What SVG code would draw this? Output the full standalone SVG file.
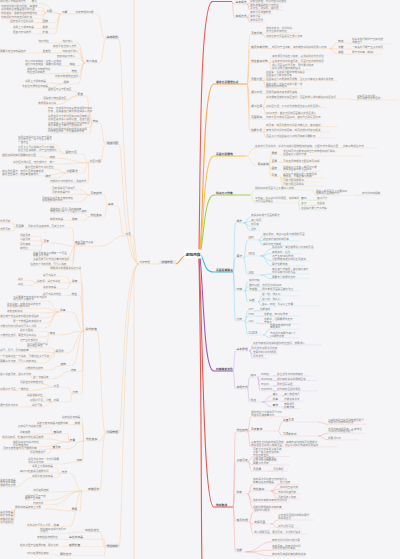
<svg xmlns="http://www.w3.org/2000/svg" width="400" height="559" viewBox="0 0 400 559">
<style>
text{font-family:"Noto Sans CJK SC","Noto Sans",sans-serif}
.t{font-size:2.6px;fill:#858585}
.l{font-size:2.8px;fill:#6a6a6a}
.m{font-size:2.8px;fill:#444;font-weight:600}
.bx{fill:#e4e4ea}
.c{fill:none;stroke-width:.5}
.u{fill:none;stroke-width:.45}
.mb{fill:none;stroke-width:1.1}
.cl{stroke:#f8cfa4}.ul{stroke:#fbdcbc}
.c1{stroke:#f4a6a6}.u1{stroke:#f9cccc}
.c2{stroke:#fbc995}.u2{stroke:#fddcb8}
.c3{stroke:#fcd38a}.u3{stroke:#fee3b5}
.c4{stroke:#c9e29a}.u4{stroke:#dfeec4}
.c5{stroke:#8fd3ee}.u5{stroke:#c2e8f6}
.c6{stroke:#cfa8e0}.u6{stroke:#e5d0ee}
.c7{stroke:#f5a8a8}.u7{stroke:#f9cdcd}
</style>
<rect width="400" height="559" fill="#f5f5f7"/>
<g id="connectors">
<path class="mb" stroke="#ee5a52" d="M199,251C200.5,150 200,8 212,1.5L232,1.5"/>
<path class="mb" stroke="#f7a34b" d="M200,252C204,200 203,84 214,84L247,84"/>
<path class="mb" stroke="#f9c24d" d="M200,253C204,220 204,156 214,156L246,156"/>
<path class="mb" stroke="#a6cf4f" d="M200,254C204,240 204,195 214,195L250,195"/>
<path class="mb" stroke="#3ab7e5" d="M201,255C205,262 204,272 214,272L233,272"/>
<path class="mb" stroke="#9b59b6" d="M200,256C204,300 204,371 214,371L233,371"/>
<path class="mb" stroke="#e8544e" d="M199,257C203,330 203,507 214,507L233,507"/>
<path class="mb" stroke="#e8544e" d="M199,258C202,420 201,540 202,562"/>
<path class="mb" stroke="#f6a85a" d="M186,255.5C181,255.5 180,264 175.5,264"/>
<path class="c cl" d="M139,264C135,264 134,258 134,245L134,-2M139,264C135,264 134,270 134,283L134,562M139,264C122,264 123,39.4 119,39.4M139,264C122,264 123,144.4 119,144.4M139,264C135,264 136,235.9 132.5,235.9M139,264C122,264 123,433.4 119,433.4M139,264C122,264 123,547.4 119,547.4M159.5,264L151,264
M105.5,39.4C101,39.4 101,13.9 97,13.9M105.5,39.4C103,39.4 103,62.9 100,62.9M75,13.9L68,13.9M61,13.9C50,13.9 50,3.1 39,3.1M61,13.9C58,13.9 58,12.9 55,12.9M46,12.9C44,12.9 44,7.4 42,7.4M46,12.9C44,12.9 44,10.9 42,10.9M46,12.9C44,12.9 44,14.9 42,14.9M46,12.9C44,12.9 44,18.7 42,18.7M61,13.9C58,13.9 58,22.7 55,22.7M42,22.7L35,22.7M61,13.9C58,13.9 58,28.7 55,28.7M42,28.7L38,28.7M61,13.9C58,13.9 58,33.7 55,33.7M42,33.7L38,33.7
M85,62.9C81.5,62.9 81.5,42.9 78,42.9M62,42.9L55,42.9M85,62.9C81.5,62.9 81.5,47.9 78,47.9M85,62.9C81.5,62.9 81.5,52.9 78,52.9M62,52.9L53,52.9M42,52.9L33,52.9M85,62.9C81.5,62.9 81.5,57.9 78,57.9M85,62.9C81.5,62.9 81.5,65.9 78,65.9M69,65.9C65.5,65.9 65.5,65.8 62,65.8M85,62.9C81.5,62.9 81.5,72.9 78,72.9M71,72.9C60,72.9 60,73.7 50,73.7M85,62.9C81.5,62.9 81.5,77.9 78,77.9M85,62.9C81.5,62.9 81.5,83.9 78,83.9M63,83.9C56,83.9 56,82.9 50,82.9M63,83.9C56,83.9 56,87.9 50,87.9
M105.5,144.4C102,144.4 103,122.9 100,122.9M92,122.9C89,122.9 89,95.9 86,95.9M77,95.9C76,95.9 76,90.9 75,90.9M77,95.9C72,95.9 72,99.9 67,99.9M77,95.9C67,95.9 67,104.4 58,104.4M92,122.9C91,122.9 91,112.9 90,112.9M92,122.9C91,122.9 91,120.7 90,120.7M92,122.9C91,122.9 91,127.1 90,127.1M92,122.9C91,122.9 91,133.2 90,133.2M105.5,144.4C102,144.4 103,162.9 100,162.9M89,162.9C85.5,162.9 85.5,153.9 82,153.9M65,153.9C59,153.9 59,143.9 53,143.9M65,153.9C62.5,153.9 62.5,151.8 60,151.8M89,162.9C73,162.9 73,158.4 58,158.4M49,158.4C44.5,158.4 44.5,156.5 40,156.5M89,162.9C73,162.9 73,163.9 58,163.9M49,163.9L48,163.9M89,162.9C86,162.9 86,172.9 83,172.9M66,172.9C60.5,172.9 60.5,168.9 55,168.9M66,172.9C54.5,172.9 54.5,175.8 43,175.8M66,172.9C62,172.9 62,177.9 58,177.9M89,162.9C88.5,162.9 88.5,182.9 88,182.9
M124.5,235.9C120.5,235.9 121,205.9 117,205.9M107.5,205.9C105.5,205.9 106,194.9 104,194.9M90,194.9C85,194.9 85,189.9 80,189.9M90,194.9C84,194.9 84,194.2 78,194.2M90,194.9C85,194.9 85,202.1 80,202.1M107.5,205.9C105.5,205.9 106,216.9 104,216.9M90,216.9C86,216.9 86,213.2 82,213.2M90,216.9C87,216.9 87,220.4 84,220.4M71,220.4L68,220.4M124.5,235.9C112,235.9 112,246.2 100,246.2M75,246.2C73.5,246.2 73.5,227.9 72,227.9M28,227.9L25,227.9M15,227.9C14,227.9 14,222.9 13,222.9M15,227.9C14,227.9 14,230.9 13,230.9M75,246.2C63.5,246.2 63.5,242.9 52,242.9M43,242.9C41.5,242.9 41.5,236.4 40,236.4M43,242.9C41.5,242.9 41.5,240.9 40,240.9M43,242.9C41.5,242.9 41.5,245.4 40,245.4M43,242.9C41.5,242.9 41.5,249.9 40,249.9M75,246.2C71.5,246.2 71.5,257.2 68,257.2M75,246.2C74,246.2 74,260.9 73,260.9M75,246.2C73.5,246.2 73.5,265.9 72,265.9
M105.5,433.4C101,433.4 101,330.9 97,330.9M84,330.9C82,330.9 82,269.9 80,269.9M84,330.9C83,330.9 83,282.9 82,282.9M71,282.9C68.5,282.9 68.5,276.4 66,276.4M71,282.9L65,282.9M37,282.9C33.5,282.9 33.5,280.4 30,280.4M37,282.9C33.5,282.9 33.5,285.4 30,285.4M71,282.9C69,282.9 69,288.9 67,288.9M84,330.9C82,330.9 82,295.4 80,295.4M71,295.4L67,295.4M84,330.9C78,330.9 78,311.9 72,311.9M59,311.9C53.5,311.9 53.5,301.2 48,301.2M59,311.9C52,311.9 52,308.2 45,308.2M59,311.9C52,311.9 52,312.9 45,312.9M59,311.9C53,311.9 53,317.9 47,317.9M59,311.9C53,311.9 53,322.9 47,322.9M59,311.9C52,311.9 52,327.9 45,327.9M84,330.9C72,330.9 72,334.9 60,334.9M49,334.9C48,334.9 48,331.4 47,331.4M49,334.9C47,334.9 47,337.1 45,337.1M49,334.9C48,334.9 48,341.7 47,341.7M84,330.9C76,330.9 76,352.9 68,352.9M55,352.9C54,352.9 54,348.2 53,348.2M55,352.9C49,352.9 49,351.9 43,351.9M55,352.9C54,352.9 54,357.9 53,357.9M55,352.9C50,352.9 50,362.9 45,362.9M84,330.9C78,330.9 78,365.7 72,365.7M60,365.7C55,365.7 55,369.9 50,369.9M84,330.9C83,330.9 83,371.5 82,371.5M70,371.5C61.5,371.5 61.5,378.7 53,378.7M33,378.7C31.5,378.7 31.5,375.4 30,375.4M84,330.9C83,330.9 83,393.9 82,393.9M72,393.9C70,393.9 70,387.4 68,387.4M53,387.4C48,387.4 48,383.9 43,383.9M53,387.4C42.5,387.4 42.5,390.4 32,390.4M72,393.9C71,393.9 71,401.9 70,401.9M53,401.9C48,401.9 48,396.5 43,396.5M53,401.9L50,401.9M53,401.9C48,401.9 48,406.9 43,406.9M32,406.9L27,406.9
M105.5,433.4C102.5,433.4 102.5,440.9 100,440.9M84,440.9C83,440.9 83,418.9 82,418.9M84,440.9C83,440.9 83,424.9 82,424.9M74,424.9L71,424.9M84,440.9C82.5,440.9 82.5,441.9 81,441.9M69,441.9C68.5,441.9 68.5,433.9 68,433.9M53,433.9C51.5,433.9 51.5,427.4 50,427.4M53,433.9L33,433.9M69,441.9C58,441.9 58,438.9 47,438.9M69,441.9C55.5,441.9 55.5,446.8 42,446.8M84,440.9C75.5,440.9 75.5,448.9 67,448.9M52,448.9C45,448.9 45,449.9 38,449.9M52,448.9C50,448.9 50,453.9 48,453.9M84,440.9C83,440.9 83,461.9 82,461.9M76,461.9C69.5,461.9 69.5,463.8 63,463.8
M105.5,433.4C102,433.4 102,490.9 100,490.9M82,490.9C76,490.9 76,473.4 70,473.4M61,473.4C58,473.4 58,467.4 55,467.4M61,473.4C58,473.4 58,472.9 55,472.9M61,473.4C59,473.4 59,477.9 57,477.9M32,477.9C23.5,477.9 23.5,487.1 15,487.1M82,490.9C69.5,490.9 69.5,491.9 57,491.9M82,490.9C66,490.9 66,500.2 50,500.2M82,490.9C67,490.9 67,504.7 52,504.7M82,490.9C81,490.9 81,510.9 80,510.9M71,510.9C58,510.9 58,508.9 45,508.9M15,508.9C14,508.9 14,513.4 13,513.4M15,508.9C14,508.9 14,516.9 13,516.9M15,508.9C14,508.9 14,520.4 13,520.4M15,508.9C14,508.9 14,523.9 13,523.9M82,490.9C76,490.9 76,526.4 70,526.4M53,526.4L51,526.4
M105.5,547.4C102.5,547.4 102.5,531.9 100,531.9M83,531.9C75,531.9 75,533.3 67,533.3M105.5,547.4C104.7,547.4 104.7,539.3 104,539.3M67,539.3L63,539.3M105.5,547.4C104.7,547.4 104.7,546.5 104,546.5M67,546.5L65,546.5M48,546.5L45,546.5M105.5,547.4C104.7,547.4 104.7,555.5 104,555.5M58,555.5C56.5,555.5 56.5,554.4 55,554.4"/>
<path class="c c1" d="M232,1.5C233,1.5 233,4.2 234,4.2M232,1.5C233,1.5 233,17.5 234,17.5M247,4.2C248.5,4.2 248.5,3.1 250,3.1M247,4.2C248.5,4.2 248.5,6.5 250,6.5M247,4.2C248.5,4.2 248.5,9.9 250,9.9M247,17.5C248.5,17.5 248.5,14.1 250,14.1M247,17.5C248.5,17.5 248.5,18.1 250,18.1M247,17.5C248.5,17.5 248.5,22.3 250,22.3"/>
<path class="c c2" d="M247,84C248.5,84 248.5,34.7 250,34.7M263,34.7C264.5,34.7 264.5,32.9 266,32.9M263,34.7C264.5,34.7 264.5,38.1 266,38.1M247,84C248.5,84 248.5,48.7 250,48.7M269,48.7L272,48.7M330,48.7C333.5,48.7 333.5,42.9 337,42.9M346,42.9C349,42.9 349,43.8 352,43.8M330,48.7C333.5,48.7 333.5,48.9 337,48.9M346,48.9L352,48.9M330,48.7C333.5,48.7 333.5,54.2 337,54.2M346,54.2L352,54.2M247,84C248.5,84 248.5,62.7 250,62.7M269,62.7C270.5,62.7 270.5,57.9 272,57.9M269,62.7L272,62.7M269,62.7C270.5,62.7 270.5,69.8 272,69.8M247,84C248.5,84 248.5,80.7 250,80.7M263,80.7C264.5,80.7 264.5,77 266,77M263,80.7L266,80.7M263,80.7C264.5,80.7 264.5,88.3 266,88.3M247,84C248.5,84 248.5,93.7 250,93.7M263,93.7L266,93.7M247,84C248.5,84 248.5,107.7 250,107.7M263,107.7C264.5,107.7 264.5,98.9 266,98.9M348,98.9C352.5,98.9 352.5,100.1 357,100.1M263,107.7L266,107.7M263,107.7C264.5,107.7 264.5,114.5 266,114.5M247,84C248.5,84 248.5,119.3 250,119.3M263,119.3L266,119.3M247,84C248.5,84 248.5,131.9 250,131.9M263,131.9C264.5,131.9 264.5,126.5 266,126.5M263,131.9L266,131.9M263,131.9C264.5,131.9 264.5,137.8 266,137.8"/>
<path class="c c3" d="M246,156C250.5,156 250.5,147.9 255,147.9M340,147.9L343,147.9M246,156C251,156 251,165.9 256,165.9M269,165.9C270,165.9 270,154.5 271,154.5M280,154.5C281.5,154.5 281.5,155.9 283,155.9M269,165.9C270,165.9 270,162.4 271,162.4M280,162.4L283,162.4M269,165.9C270,165.9 270,169.5 271,169.5M280,169.5C281.5,169.5 281.5,171.2 283,171.2M269,165.9C270,165.9 270,176.9 271,176.9M280,176.9C281.5,176.9 281.5,178.2 283,178.2M280,176.9C281.5,176.9 281.5,181.9 283,181.9M280,176.9C281.5,176.9 281.5,185.9 283,185.9"/>
<path class="c c4" d="M250,195C252.5,195 252.5,189.9 255,189.9M312,189.9C314,189.9 314,195.2 316,195.2M354,195.2L362,195.2M250,195C252.5,195 252.5,202.9 255,202.9M298,202.9C299,202.9 299,200.1 300,200.1M308,200.1L317,200.1M298,202.9C299,202.9 299,205.1 300,205.1M308,205.1L317,205.1M298,202.9C299,202.9 299,210.1 300,210.1"/>
<path class="c c5" d="M233,272C234.2,272 234.2,222.9 235.5,222.9M243.5,222.9C247.2,222.9 247.2,216.9 251,216.9M243.5,222.9C247.2,222.9 247.2,221.5 251,221.5M243.5,222.9C247.2,222.9 247.2,226.1 251,226.1M243.5,222.9C247.2,222.9 247.2,230.7 251,230.7M233,272C234.2,272 234.2,257.9 235.5,257.9M243.5,257.9C245.5,257.9 245.5,239.9 247.5,239.9M258.5,239.9C260.8,239.9 260.8,235.9 263,235.9M258.5,239.9C260.8,239.9 260.8,240.7 263,240.7M258.5,239.9C260.8,239.9 260.8,245.4 263,245.4M243.5,257.9C245.5,257.9 245.5,255.9 247.5,255.9M260.5,255.9C266,255.9 266,248.9 272,248.9M260.5,255.9C266,255.9 266,253.7 272,253.7M260.5,255.9C266,255.9 266,260.8 272,260.8M260.5,255.9C266,255.9 266,265.9 272,265.9M243.5,257.9C245.5,257.9 245.5,274.9 247.5,274.9M260.5,274.9C266,274.9 266,274 272,274M260.5,274.9C266,274.9 266,278.7 272,278.7M233,272C234.2,272 234.2,290.9 235.5,290.9M244.5,290.9C246.2,290.9 246.2,281.9 248,281.9M244.5,290.9C246.2,290.9 246.2,286.9 248,286.9M244.5,290.9C246.2,290.9 246.2,291 248,291M258,291L262,291M244.5,290.9C246.2,290.9 246.2,301.9 248,301.9M258,301.9C260,301.9 260,295.9 262,295.9M258,301.9C260,301.9 260,300.9 262,300.9M258,301.9C260,301.9 260,305.9 262,305.9M233,272C234.2,272 234.2,320.9 235.5,320.9M244.5,320.9C246.2,320.9 246.2,310.9 248,310.9M254,310.9L260,310.9M244.5,320.9C246.2,320.9 246.2,316.1 248,316.1M256,316.1L264,316.1M244.5,320.9C246.2,320.9 246.2,322.9 248,322.9M256,322.9C260,322.9 260,323.9 264,323.9M244.5,320.9C246.2,320.9 246.2,334.9 248,334.9M263,334.9C266.5,334.9 266.5,329.2 270,329.2M263,334.9C266.5,334.9 266.5,337.8 270,337.8"/>
<path class="c c6" d="M233,371C234.2,371 234.2,350.9 235.5,350.9M249.5,350.9C251.2,350.9 251.2,344.9 253,344.9M249.5,350.9C250.5,350.9 250.5,349.9 251.5,349.9M249.5,350.9C251.2,350.9 251.2,354.1 253,354.1M249.5,350.9C251.2,350.9 251.2,358.3 253,358.3M233,371C234.2,371 234.2,388.9 235.5,388.9M247.5,388.9C248.5,388.9 248.5,377.3 249.5,377.3M257.5,377.3C258.8,377.3 258.8,375.9 260,375.9M257.5,377.3C258.8,377.3 258.8,380.5 260,380.5M257.5,377.3C258.8,377.3 258.8,385.9 260,385.9M257.5,377.3C258.8,377.3 258.8,390.9 260,390.9M273,375.9L277,375.9M273,380.5L277,380.5M273,385.9L277,385.9M273,390.9L277,390.9M247.5,388.9C248.5,388.9 248.5,401.9 249.5,401.9M262,401.9C266.8,401.9 266.8,395.9 271.5,395.9M262,401.9C266.8,401.9 266.8,401.1 271.5,401.1M262,401.9C266.8,401.9 266.8,406.9 271.5,406.9M282,395.9L284,395.9M282,401.1L284,401.1M282,406.9C283,406.9 283,408.6 284,408.6"/>
<path class="c c7" d="M233,507C234.2,507 234.2,431.9 235.5,431.9M247.5,431.9C249.2,431.9 249.2,416.8 251,416.8M247.5,431.9C248.8,431.9 248.8,430.9 250,430.9M278,430.9C280,430.9 280,421.9 282,421.9M318,421.9C323,421.9 323,424.3 328,424.3M278,430.9C280,430.9 280,435.9 282,435.9M318,435.9C323,435.9 323,433.2 328,433.2M318,435.9C323,435.9 323,439.9 328,439.9M247.5,431.9C249.2,431.9 249.2,446.9 251,446.9M233,507C234.2,507 234.2,461.9 235.5,461.9M247.5,461.9C250.2,461.9 250.2,456.5 253,456.5M247.5,461.9C250.2,461.9 250.2,465 253,465M247.5,461.9C249.8,461.9 249.8,471.1 252,471.1M268,471.1L273,471.1M233,507C234.2,507 234.2,493.9 235.5,493.9M247.5,493.9C250.2,493.9 250.2,483.9 253,483.9M247.5,493.9C249.8,493.9 249.8,490.9 252,490.9M271,490.9C275.5,490.9 275.5,484.2 280,484.2M271,490.9C275.5,490.9 275.5,489.1 280,489.1M271,490.9C274.5,490.9 274.5,494 278,494M271,490.9C274.5,490.9 274.5,498.9 278,498.9M247.5,493.9C250.2,493.9 250.2,502.1 253,502.1M247.5,493.9C250.2,493.9 250.2,508.9 253,508.9M233,507C234.2,507 234.2,521.9 235.5,521.9M249.5,521.9C251.2,521.9 251.2,511.9 253,511.9M249.5,521.9C251.2,521.9 251.2,523.9 253,523.9M271,523.9C274.5,523.9 274.5,520 278,520M271,523.9C274.5,523.9 274.5,527.9 278,527.9M249.5,521.9C251.2,521.9 251.2,533.9 253,533.9M233,507C234.2,507 234.2,551.9 235.5,551.9M245.5,551.9C258.8,551.9 258.8,541.9 272,541.9M245.5,551.9C258.8,551.9 258.8,550.2 272,550.2M245.5,551.9C258.8,551.9 258.8,555.9 272,555.9"/>
</g>
<g id="underlines">
<path class="u ul" d="M0 3.1h30M31 3.1h8M46 12.9h9M1 7.4h41M1 10.9h41M1 14.9h41M1 18.7h41M42 22.7h13M10 22.7h25M42 28.7h13M13 28.7h25M42 33.7h13M13 33.7h25M61 13.9h7M75 13.9h22M85 62.9h15M62 42.9h16M38 42.9h17M53 47.9h25M62 52.9h16M42 52.9h11M0 52.9h33M57 57.9h21M69 65.9h9M25 65.8h37M71 72.9h7M27 73.7h23M55 77.9h23M63 83.9h15M25 82.9h25M22 87.9h28M92 122.9h8M77 95.9h9M48 90.9h27M43 99.9h24M38 104.4h20M48 112.9h42M48 120.7h42M48 127.1h42M48 133.2h42M89 162.9h11M65 153.9h17M18 143.9h35M18 151.8h42M49 158.4h9M2 156.5h38M49 163.9h9M13 163.9h35M66 172.9h17M25 168.9h30M2 175.8h41M45 177.9h13M50 182.9h38M124.5 235.9h8M107.5 205.9h9.5M90 194.9h14M52 189.9h28M52 194.2h26M42 202.1h38M90 216.9h14M50 213.2h32M71 220.4h13M50 220.4h18M75 246.2h25M28 227.9h44M15 227.9h10M0 222.9h13M0 230.9h13M43 242.9h9M20 236.4h20M20 240.9h20M20 245.4h20M20 249.9h20M33 257.2h35M33 260.9h40M30 265.9h42M84 330.9h13M50 269.9h30M71 282.9h11M43 276.4h23M37 282.9h28M18 280.4h12M18 285.4h12M43 288.9h24M71 295.4h9M43 295.4h24M59 311.9h13M13 301.2h35M7 308.2h38M7 312.9h38M0 317.9h47M13 322.9h34M0 327.9h45M49 334.9h11M20 331.4h27M0 337.1h45M20 341.7h27M55 352.9h13M27 348.2h26M0 351.9h43M0 357.9h53M0 362.9h45M60 365.7h12M25 369.9h25M70 371.5h12M33 378.7h20M0 375.4h30M72 393.9h10M53 387.4h15M20 383.9h23M0 390.4h32M53 401.9h17M27 396.5h16M30 401.9h20M32 406.9h11M0 406.9h27M84 440.9h16M62 418.9h20M74 424.9h8M37 424.9h34M69 441.9h12M53 433.9h15M18 427.4h32M20 433.9h13M2 438.9h45M13 446.8h29M52 448.9h15M3 449.9h35M30 453.9h18M76 461.9h6M28 463.8h35M82 490.9h18M61 473.4h9M32 467.4h23M20 472.9h35M32 477.9h25M0 487.1h15M33 491.9h24M25 500.2h25M33 504.7h19M71 510.9h9M15 508.9h30M0 513.4h13M0 516.9h13M0 520.4h13M0 523.9h13M53 526.4h17M27 526.4h24M83 531.9h17M40 533.3h27M67 539.3h37M37 539.3h26M67 546.5h37M48 546.5h17M20 546.5h25M58 555.5h46M27 554.4h28M139 264h12"/>
<path class="u u1" d="M234 4.2h13M250 3.1h34M250 6.5h32M250 9.9h33M234 17.5h13M250 14.1h22M250 18.1h13M250 22.3h15"/>
<path class="u u2" d="M250 34.7h13M266 32.9h34M266 38.1h34M250 48.7h19M272 48.7h58M337 42.9h9M352 43.8h40M337 48.9h9M352 48.9h32M337 54.2h9M352 54.2h30M250 62.7h19M272 57.9h51M272 62.7h51M272 69.8h39M250 80.7h13M266 77h37M266 80.7h72M266 88.3h37M250 93.7h13M266 93.7h37M250 107.7h13M266 98.9h82M357 100.1h42M266 107.7h61M266 114.5h50M250 119.3h13M266 119.3h52M250 131.9h13M266 126.5h72M266 131.9h64M266 137.8h69"/>
<path class="u u3" d="M255 147.9h85M343 147.9h35M256 165.9h13M271 154.5h9M283 155.9h80M271 162.4h9M283 162.4h37M271 169.5h9M283 171.2h39M271 176.9h9M283 178.2h42M283 181.9h35M283 185.9h42"/>
<path class="u u4" d="M255 189.9h57M316 195.2h38M362 195.2h22M255 202.9h43M300 200.1h8M317 200.1h10M300 205.1h8M317 205.1h10M300 210.1h26"/>
<path class="u u5" d="M235.5 222.9h8M251 216.9h30M251 221.5h12M251 226.1h9M251 230.7h9M235.5 257.9h8M247.5 239.9h11M263 235.9h37M263 240.7h37M263 245.4h37M247.5 255.9h13M272 248.9h38M272 253.7h30M272 260.8h38M272 265.9h33M247.5 274.9h13M272 274h38M272 278.7h36M235.5 290.9h9M248 281.9h12M248 286.9h31M248 291h10M262 291h38M248 301.9h10M262 295.9h38M262 300.9h21M262 305.9h58M235.5 320.9h9M248 310.9h6M260 310.9h11M248 316.1h8M264 316.1h36M248 322.9h8M264 323.9h36M248 334.9h15M270 329.2h30M270 337.8h30"/>
<path class="u u6" d="M235.5 350.9h14M253 344.9h69M251.5 349.9h27M253 354.1h25M253 358.3h14M235.5 388.9h12M249.5 377.3h8M260 375.9h13M277 375.9h33M260 380.5h13M277 380.5h40M260 385.9h13M277 385.9h23M260 390.9h13M277 390.9h41M249.5 401.9h12.5M271.5 395.9h10.5M284 395.9h16M271.5 401.1h10.5M284 401.1h19M271.5 406.9h10.5M284 408.6h16"/>
<path class="u u7" d="M235.5 431.9h12M251 416.8h38M250 430.9h28M282 421.9h36M328 424.3h39M282 435.9h36M328 433.2h37M328 439.9h30M251 446.9h86M235.5 461.9h12M253 456.5h37M253 465h37M252 471.1h16M273 471.1h15M235.5 493.9h12M253 483.9h36M252 490.9h19M280 484.2h20M280 489.1h20M278 494h22M278 498.9h22M253 502.1h36M253 508.9h31M235.5 521.9h14M253 511.9h17M253 523.9h18M278 520h36M278 527.9h22M253 533.9h55M235.5 551.9h10M272 541.9h28M272 550.2h28M272 555.9h32"/>
</g>
<g id="node-center">
<rect x="184.5" y="249.5" width="17" height="9" rx="1" fill="#fff"/>
<text x="193" y="255.6" text-anchor="middle" font-size="3.8" font-weight="700" fill="#222">虚拟内存</text>
</g>
<g id="node-left-root">
<rect class="bx" x="159.5" y="260.2" width="16" height="3.8"/>
<text class="l" x="161.4" y="262.9">存储管理</text>
<text class="t" x="139.5" y="263.1">内存管理</text>
</g>
<g id="node-left-basic">
<rect class="bx" x="105.5" y="35.6" width="13.5" height="3.8"/>
<text class="l" x="106.7" y="38.4">基本概念</text>
<text class="t" x="0" y="2.2">程序装入与链接的方式</text>
<text class="l" x="31.5" y="2.2">装入</text>
<text class="l" x="62" y="13">功能</text>
<text class="t" x="75.5" y="13">内存管理的功能</text>
<text class="l" x="46.5" y="12">分配</text>
<text class="t" x="1" y="6.5">内存空间的分配与回收，由操作</text>
<text class="t" x="1" y="10">系统完成主存储器空间的分配</text>
<text class="t" x="1" y="14">地址转换：逻辑地址转物理地址</text>
<text class="t" x="1" y="17.8">内存保护与内存空间的扩充</text>
<text class="l" x="42.5" y="21.8">回收</text>
<text class="t" x="10" y="21.8">回收空闲分区并合并</text>
<text class="l" x="42.5" y="27.8">保护</text>
<text class="t" x="13" y="27.8">设置上下限寄存器</text>
<text class="l" x="42.5" y="32.8">扩充</text>
<text class="t" x="13" y="32.8">覆盖与交换技术</text>
<text class="l" x="86" y="62">装入链接</text>
<text class="t" x="62.5" y="42">绝对装入</text>
<text class="t" x="38.5" y="42">绝对地址</text>
<text class="t" x="53" y="47">静态重定位装入方式</text>
<text class="t" x="62.5" y="52">动态运行装入</text>
<text class="l" x="42.5" y="52">重定位</text>
<text class="t" x="0" y="52">需要重定位寄存器支持</text>
<text class="t" x="57" y="57">静态链接与装入</text>
<text class="l" x="69.5" y="65">链接</text>
<text class="t" x="25" y="62.1">装入时动态链接：边装入边链接</text>
<text class="t" x="25" y="64.9">运行时动态链接：需要时再链接</text>
<text class="l" x="71.5" y="72">地址</text>
<text class="t" x="27" y="70.2">逻辑地址与物理地址</text>
<text class="t" x="27" y="72.8">地址空间的概念</text>
<text class="t" x="55" y="77">内存中物理地址空间</text>
<text class="l" x="63.5" y="83">保护</text>
<text class="t" x="25" y="82">设置上下限寄存器</text>
<text class="t" x="22" y="87">重定位与界地址寄存器</text>
</g>
<g id="node-left-contiguous">
<rect class="bx" x="105.5" y="140.8" width="13.5" height="3.8"/>
<text class="l" x="106.7" y="143.6">连续分配</text>
<text class="l" x="92.5" y="122">交换</text>
<text class="l" x="77.5" y="95">覆盖</text>
<text class="t" x="48" y="90">固定区与若干覆盖区</text>
<text class="t" x="43" y="99">活跃部分放在固定区</text>
<text class="t" x="38" y="103.5">按调用关系分段</text>
<text class="t" x="48" y="109.3">交换：内存紧张时将某些进程暂时换出</text>
<text class="t" x="48" y="112">外存，把具备运行条件的进程换入内存</text>
<text class="t" x="48" y="117.1">磁盘空间分为文件区和对换区两部分</text>
<text class="t" x="48" y="119.8">对换区追求换入换出速度，连续分配</text>
<text class="t" x="48" y="123.5">何时交换：许多进程运行时经常缺页</text>
<text class="t" x="48" y="126.2">缺页率明显下降时可暂停换出</text>
<text class="t" x="48" y="129.6">优先换出阻塞进程和低优先级进程</text>
<text class="t" x="48" y="132.3">PCB常驻内存，不会被换出外存</text>
<text class="l" x="89.5" y="162">分区分配</text>
<text class="l" x="65.5" y="153">固定分区</text>
<text class="t" x="18" y="137.6">将用户空间划分为若干个固定</text>
<text class="t" x="18" y="140.3">大小的分区，每个分区只装入</text>
<text class="t" x="18" y="143">一道作业</text>
<text class="t" x="18" y="148.2">分区大小可以相等也可以不相等</text>
<text class="t" x="18" y="150.9">建立分区说明表，会产生内部碎片</text>
<text class="l" x="49.5" y="157.5">动态</text>
<text class="t" x="2" y="155.6">根据进程的实际需要动态分配</text>
<text class="l" x="49.5" y="163">单一</text>
<text class="t" x="13" y="163">系统区与用户区，无外部碎片</text>
<text class="l" x="66.5" y="172">分配算法</text>
<text class="t" x="25" y="168">首次适应算法与邻近适应</text>
<text class="t" x="2" y="172.2">最佳适应算法：空闲分区按容量递增</text>
<text class="t" x="2" y="174.9">最坏适应算法：按容量递减排列</text>
<text class="l" x="45.5" y="177">碎片</text>
<text class="t" x="50" y="182">内部碎片与外部碎片，紧凑技术</text>
</g>
<g id="node-left-paging">
<text class="l" x="125.2" y="235">分页</text>
<text class="l" x="108" y="205">基本</text>
<text class="l" x="90.5" y="194">页表结构</text>
<text class="t" x="52" y="189">页表项由页号和块号</text>
<text class="t" x="52" y="193.3">页表寄存器PTR</text>
<text class="t" x="42" y="198.5">页表始址和页表长度存放在</text>
<text class="t" x="42" y="201.2">进程控制块PCB中</text>
<text class="l" x="90.5" y="216">地址变换</text>
<text class="t" x="50" y="209.6">逻辑地址=页号+页内偏移量</text>
<text class="t" x="50" y="212.3">物理地址=块号×页面大小+偏移</text>
<text class="l" x="72" y="219.5">快表</text>
<text class="t" x="50" y="219.5">联想寄存器</text>
<text class="t" x="75" y="242.6">两级页表与多级</text>
<text class="t" x="75" y="245.3">页表结构</text>
<text class="t" x="28" y="227">页表必须连续存放，页表过大时</text>
<text class="l" x="15.5" y="227">页目录</text>
<text class="t" x="0" y="222">外层页表</text>
<text class="t" x="0" y="230">内层页表</text>
<text class="l" x="43.5" y="242">页表</text>
<text class="t" x="20" y="235.5">顶级页表</text>
<text class="t" x="20" y="240">二级页表</text>
<text class="t" x="20" y="244.5">页内偏移</text>
<text class="t" x="20" y="249">有效位</text>
<text class="t" x="33" y="253.6">顶级页表最多只能有一个页面</text>
<text class="t" x="33" y="256.3">需要多次访存</text>
<text class="t" x="33" y="260">多级页表可以节省大量内存空间</text>
<text class="t" x="30" y="265">但增加了访存次数，可引入快表</text>
</g>
<g id="node-left-segment">
<rect class="bx" x="105.5" y="429.8" width="13.5" height="3.8"/>
<text class="l" x="106.7" y="432.6">分段管理</text>
<text class="l" x="85.5" y="330">段式存储</text>
<text class="t" x="50" y="269">按照程序的逻辑关系划分段</text>
<text class="l" x="72" y="282">段表</text>
<text class="t" x="43" y="275.5">段号与段长</text>
<text class="t" x="37" y="282">段表项：段长与基址</text>
<text class="t" x="18" y="279.5">段长</text>
<text class="t" x="18" y="284.5">基址</text>
<text class="t" x="43" y="288">段表寄存器</text>
<text class="l" x="71.5" y="294.5">地址</text>
<text class="t" x="43" y="294.5">段号与段内地址</text>
<text class="l" x="60" y="311">共享</text>
<text class="t" x="13" y="297.6">分段更便于信息的共享与保护</text>
<text class="t" x="13" y="300.3">纯代码可以被共享</text>
<text class="t" x="7" y="304.6">共享段表：记录共享段的信息</text>
<text class="t" x="7" y="307.3">共享进程计数count</text>
<text class="t" x="7" y="312">存取控制字段</text>
<text class="t" x="0" y="317">通过两个作业段表中相应表项指向</text>
<text class="t" x="13" y="322">同一个物理副本实现共享</text>
<text class="t" x="0" y="327">不能修改的代码称为可重入代码</text>
<text class="l" x="49.5" y="334">特点</text>
<text class="t" x="20" y="330.5">段长不固定</text>
<text class="t" x="0" y="336.2">二维地址空间，需显式给出段名</text>
<text class="t" x="20" y="340.8">会产生外部碎片</text>
<text class="l" x="55.5" y="352">段页式</text>
<text class="t" x="27" y="344.6">先分段再把每个段</text>
<text class="t" x="27" y="347.3">划分成若干页</text>
<text class="t" x="0" y="351">段号、页号、页内偏移量</text>
<text class="t" x="0" y="357">一个进程对应一个段表，可能对应多个页表</text>
<text class="t" x="0" y="362">需要三次访存，可引入快表加速</text>
<text class="l" x="60.5" y="364.8">结构</text>
<text class="t" x="25" y="369">二维的地址结构</text>
<text class="l" x="70.5" y="370.6">访存</text>
<text class="t" x="33" y="377.8">第一次查段表</text>
<text class="t" x="0" y="374.5">第二次查页表，第三次访存</text>
<text class="l" x="72.5" y="393">比较</text>
<text class="l" x="53.5" y="386.5">分页</text>
<text class="t" x="20" y="383">页是信息的物理单位</text>
<text class="t" x="0" y="389.5">对用户不可见，一维地址</text>
<text class="l" x="53.5" y="401">分段</text>
<text class="t" x="27" y="395.6">段是逻辑单位</text>
<text class="t" x="30" y="401">对用户可见，二维</text>
<text class="t" x="32" y="406">段长可变</text>
<text class="t" x="0" y="406">便于保护与共享</text>
<text class="l" x="86" y="440">地址变换</text>
<text class="t" x="62" y="418">段表始址寄存器</text>
<text class="l" x="74.5" y="424">组成</text>
<text class="t" x="37" y="424">段表长度寄存器与越界中断</text>
<text class="l" x="69.5" y="441">步骤</text>
<text class="l" x="53.5" y="433">查段表</text>
<text class="t" x="18" y="426.5">比较段号与段表长度</text>
<text class="t" x="20" y="433">判断越界</text>
<text class="t" x="2" y="438">找到段表项，检查段内地址是否越界</text>
<text class="t" x="13" y="443.2">根据段基址与段内地址</text>
<text class="t" x="13" y="445.9">得到物理地址</text>
<text class="l" x="52.5" y="448">查页表</text>
<text class="t" x="3" y="449">页表长度检查与页号越界判断</text>
<text class="t" x="30" y="453">得到物理块号</text>
<text class="l" x="76.2" y="461">访存</text>
<text class="t" x="28" y="460.2">段页式系统中一次访问需要</text>
<text class="t" x="28" y="462.9">访问三次内存</text>
<text class="l" x="88" y="490">存储保护</text>
<text class="l" x="61.5" y="472.5">方法</text>
<text class="t" x="32" y="466.5">设置上下限寄存器</text>
<text class="t" x="20" y="472">由CPU检查是否越界访问</text>
<text class="t" x="32" y="477">采用重定位寄存器</text>
<text class="t" x="0" y="480.6">重定位寄存器</text>
<text class="t" x="0" y="483.4">界地址寄存器</text>
<text class="t" x="0" y="486.2">逻辑地址比较</text>
<text class="t" x="33" y="491">访问权限控制</text>
<text class="t" x="25" y="496.6">进程空间互不干扰</text>
<text class="t" x="25" y="499.3">越界产生中断</text>
<text class="t" x="33" y="503.8">内存共享</text>
<text class="l" x="71.5" y="510">界限</text>
<text class="t" x="15" y="508">界限寄存器存放上下界</text>
<text class="t" x="0" y="512.5">基址寄存器</text>
<text class="t" x="0" y="516">限长寄存器</text>
<text class="t" x="0" y="519.5">存储保护键</text>
<text class="t" x="0" y="523">访问权限位</text>
<text class="l" x="53.5" y="525.5">共享</text>
<text class="t" x="27" y="525.5">共享段与可重入代码</text>
</g>
<g id="node-left-mapping">
<rect class="bx" x="105.5" y="543.8" width="13.5" height="3.8"/>
<text class="l" x="106.7" y="546.6">地址映射</text>
<text class="l" x="85" y="531">动态重定位</text>
<text class="t" x="40" y="529.7">地址转换在程序执行时</text>
<text class="t" x="40" y="532.4">才进行</text>
<text class="l" x="69" y="538.4">基址寄存器</text>
<text class="t" x="37" y="538.4">存放起始物理地址</text>
<text class="l" x="69" y="545.6">越界检查</text>
<text class="t" x="48" y="545.6">限长比较</text>
<text class="t" x="20" y="545.6">超出范围产生越界中断</text>
<text class="l" x="60" y="554.6">硬件支持</text>
<text class="t" x="27" y="553.5">MMU负责地址映射</text>
</g>
<g id="node-concept">
<text class="l" x="235.5" y="3.3">基本概念</text>
<text class="t" x="250" y="2.2">局部性原理：时间与空间局部性</text>
<text class="t" x="250" y="5.6">虚拟存储器的定义与特征</text>
<text class="t" x="250" y="9">多次性、对换性、虚拟性</text>
<text class="l" x="235.5" y="16.6">实现方式</text>
<text class="t" x="250" y="13.2">请求分页存储管理</text>
<text class="t" x="250" y="17.2">请求分段</text>
<text class="t" x="250" y="21.4">请求段页式</text>
</g>
<g id="node-demand-paging">
<text class="m" x="216" y="82.8">请求分页管理方式</text>
<text class="l" x="251" y="33.8">页表机制</text>
<text class="t" x="266" y="29.3">增加状态位、访问字段、</text>
<text class="t" x="266" y="32">修改位和外存地址</text>
<text class="t" x="266" y="37.2">状态位表示页面是否已调入内存</text>
<text class="l" x="251" y="47.8">缺页中断机构</text>
<text class="t" x="272" y="47.8">缺页时产生中断，请求操作系统将缺页调入内存</text>
<text class="l" x="338" y="42">特点</text>
<text class="t" x="352" y="40.3">在指令执行期间产生和处理</text>
<text class="t" x="352" y="42.9">中断信号</text>
<text class="l" x="338" y="48">次数</text>
<text class="t" x="352" y="48">一条指令可能产生多次缺页</text>
<text class="l" x="338" y="53.3">类型</text>
<text class="t" x="352" y="53.3">属于内中断（故障）</text>
<text class="l" x="251" y="61.8">地址变换机构</text>
<text class="t" x="272" y="57">请求调页时先检索快表，若找到则修改访问位</text>
<text class="t" x="272" y="61.8">若快表未命中则查页表，页面不在内存则缺页</text>
<text class="t" x="272" y="66.2">调入页面后修改页表，同时更新快表</text>
<text class="t" x="272" y="68.9">并重新执行被中断的指令</text>
<text class="l" x="251" y="79.8">页框分配</text>
<text class="t" x="266" y="73.4">驻留集：给进程分配的物理块集合</text>
<text class="t" x="266" y="76.1">驻留集大小影响缺页率</text>
<text class="t" x="266" y="79.8">驻留集太小会导致缺页频繁，太大又会降低多道程序并发度</text>
<text class="t" x="266" y="84.7">固定分配：为每个进程分配一组</text>
<text class="t" x="266" y="87.4">固定数目的物理块</text>
<text class="l" x="251" y="92.8">调入时机</text>
<text class="t" x="266" y="92.8">预调页策略与请求调页策略</text>
<text class="l" x="251" y="106.8">调入位置</text>
<text class="t" x="266" y="98">系统拥有足够的对换区空间：页面的调入调出都在对换区进行</text>
<text class="t" x="357" y="96.6">对换区连续分配，</text>
<text class="t" x="357" y="99.2">读写速度比文件区快</text>
<text class="t" x="266" y="106.8">对换区不足：不会修改的数据直接从文件区调入</text>
<text class="t" x="266" y="113.6">UNIX方式：首次访问的页面都从文件区调入</text>
<text class="l" x="251" y="118.4">页面置换</text>
<text class="t" x="266" y="118.4">内存不足时选择页面换出，被修改过则写回外存</text>
<text class="l" x="251" y="131">性能分析</text>
<text class="t" x="266" y="125.6">缺页率：缺页次数与访问总次数之比，越低越好</text>
<text class="t" x="266" y="131">有效访问时间与缺页率、缺页处理时间密切相关</text>
<text class="t" x="266" y="136.9">页面大小与驻留集大小对缺页率有重要影响</text>
</g>
<g id="node-allocation">
<text class="m" x="216" y="154.8">页面分配策略</text>
<text class="t" x="255" y="147">在请求分页系统中，系统为进程分配物理块的策略，分配方式与置换范围</text>
<text class="t" x="343" y="147">共有三种组合方式</text>
<text class="l" x="257.5" y="165">置换策略</text>
<text class="l" x="271.5" y="153.6">局部</text>
<text class="t" x="283" y="152.3">发生缺页时只能选进程自己的物理块进行置换，</text>
<text class="t" x="283" y="155">驻留集大小保持不变</text>
<text class="l" x="271.5" y="161.5">全局</text>
<text class="t" x="283" y="161.5">可将空闲物理块分配给缺页进程</text>
<text class="l" x="271.5" y="168.6">固定</text>
<text class="t" x="283" y="167.6">驻留集大小不变，缺页时只能</text>
<text class="t" x="283" y="170.3">选择驻留集中的页面换出</text>
<text class="l" x="271.5" y="176">可变</text>
<text class="t" x="283" y="174.6">先为每个进程分配一定数目的</text>
<text class="t" x="283" y="177.3">物理块，可根据情况增减</text>
<text class="t" x="283" y="181">可变分配局部置换</text>
<text class="t" x="283" y="185">可变分配全局置换</text>
</g>
<g id="node-thrashing">
<text class="m" x="216" y="193.8">抖动与工作集</text>
<text class="t" x="255" y="189">刚刚换出的页面马上又要换入内存，</text>
<text class="t" x="316" y="191.7">刚换入的页面马上又要换出，</text>
<text class="t" x="316" y="194.3">频繁的页面调度行为</text>
<text class="t" x="362" y="194.3">称为抖动或颠簸</text>
<text class="t" x="255" y="199.3">工作集：在某段时间间隔里，进程实际</text>
<text class="t" x="255" y="202">访问页面的集合</text>
<text class="l" x="301" y="199.2">窗口</text>
<text class="t" x="317" y="199.2">窗口尺寸</text>
<text class="l" x="301" y="204.2">大小</text>
<text class="t" x="317" y="204.2">驻留集</text>
<text class="t" x="301" y="209.2">驻留集不能小于工作集</text>
</g>
<g id="node-replacement">
<text class="m" x="216" y="270.8">页面置换算法</text>
<text class="l" x="236.5" y="222">概念</text>
<text class="t" x="251" y="216">选择换出哪个页面的算法</text>
<text class="t" x="251" y="220.6">减少缺页</text>
<text class="t" x="251" y="225.2">缺页率</text>
<text class="t" x="251" y="229.8">评价</text>
<text class="l" x="236.5" y="257">算法</text>
<text class="l" x="248.5" y="239">OPT</text>
<text class="t" x="263" y="235">最佳置换：淘汰以后永不使用的页面</text>
<text class="t" x="263" y="239.8">保证获得最低的缺页率</text>
<text class="t" x="263" y="244.5">实际中无法实现</text>
<text class="l" x="248.5" y="255">FIFO</text>
<text class="t" x="272" y="248">先进先出：淘汰最早进入内存的页面</text>
<text class="t" x="272" y="252.8">实现简单，队列</text>
<text class="t" x="272" y="257.2">会产生Belady异常</text>
<text class="t" x="272" y="259.9">分配物理块增多缺页反而增加</text>
<text class="t" x="272" y="265">算法性能较差</text>
<text class="l" x="248.5" y="274">LRU</text>
<text class="t" x="272" y="270.4">最近最久未使用：淘汰最近最长</text>
<text class="t" x="272" y="273.1">时间没有访问的页面</text>
<text class="t" x="272" y="277.8">需要专门的硬件支持</text>
<text class="l" x="236.5" y="290">时钟</text>
<text class="t" x="249" y="281">简单时钟</text>
<text class="t" x="249" y="286">循环扫描，访问位为0则换出</text>
<text class="l" x="249" y="290.1">改进型</text>
<text class="t" x="262" y="290.1">同时考虑页面是否被修改过</text>
<text class="l" x="249" y="301">扫描</text>
<text class="t" x="262" y="295">第一轮：找(0,0)</text>
<text class="t" x="262" y="300">第二轮：找(0,1)</text>
<text class="t" x="262" y="305">第三、四轮：重复以上步骤</text>
<text class="l" x="236.5" y="320">比较</text>
<text class="t" x="248.5" y="310">OPT</text>
<text class="t" x="260" y="310">性能最好</text>
<text class="t" x="248.5" y="315.2">FIFO</text>
<text class="t" x="264" y="315.2">性能差，Belady异常</text>
<text class="t" x="248.5" y="322">LRU</text>
<text class="t" x="264" y="320.3">性能好，但需要硬件支持</text>
<text class="t" x="264" y="323">开销大</text>
<text class="l" x="248.5" y="334">CLOCK</text>
<text class="t" x="270" y="325.6">性能和开销较均衡</text>
<text class="t" x="270" y="328.3">实现简单</text>
<text class="t" x="270" y="334.2">改进型时钟算法减少了</text>
<text class="t" x="270" y="336.9">I/O操作次数</text>
</g>
<g id="node-mmap">
<text class="m" x="216" y="369.8">内存映射文件</text>
<text class="l" x="236.5" y="350">基本原理</text>
<text class="t" x="253" y="344">将文件映射到进程的虚拟地址空间，按需调入</text>
<text class="t" x="251.5" y="349">访问文件如同访问内存</text>
<text class="t" x="253" y="353.2">无需read/write调用</text>
<text class="t" x="253" y="357.4">共享文件</text>
<text class="l" x="236.5" y="388">使用方式</text>
<text class="l" x="250.5" y="376.4">接口</text>
<text class="t" x="261" y="375">mmap</text>
<text class="t" x="277" y="375">建立文件与内存的映射</text>
<text class="t" x="261" y="379.6">munmap</text>
<text class="t" x="277" y="379.6">解除映射关系并释放区域</text>
<text class="t" x="261" y="385">msync</text>
<text class="t" x="277" y="385">同步回写磁盘</text>
<text class="t" x="261" y="390">mprotect</text>
<text class="t" x="277" y="390">修改映射区保护属性</text>
<text class="l" x="250.5" y="401">优点</text>
<text class="l" x="272.5" y="395">减少</text>
<text class="t" x="284" y="395">减少数据拷贝</text>
<text class="l" x="272.5" y="400.2">共享</text>
<text class="t" x="284" y="400.2">方便进程共享</text>
<text class="l" x="272.5" y="406">高效</text>
<text class="t" x="284" y="405">按需调页</text>
<text class="t" x="284" y="407.7">提高效率</text>
</g>
<g id="node-translation">
<text class="m" x="216" y="505.8">地址翻译</text>
<text class="l" x="236.5" y="431">地址结构</text>
<text class="t" x="251" y="413.2">虚拟地址分为虚拟页号VPN</text>
<text class="t" x="251" y="415.9">与虚拟页偏移量VPO</text>
<text class="l" x="251" y="430">页表查询</text>
<text class="l" x="283" y="421">先查TLB</text>
<text class="t" x="328" y="420.6">TLB命中则直接得到物理页框号</text>
<text class="t" x="328" y="423.4">无需访问内存中的页表</text>
<text class="l" x="283" y="435">TLB未命中</text>
<text class="t" x="328" y="429.6">访问内存中的页表，若有效位</text>
<text class="t" x="328" y="432.3">为1则得到物理页框号</text>
<text class="t" x="328" y="439">并更新TLB</text>
<text class="t" x="251" y="443.3">若有效位为0则触发缺页异常，由操作系统的缺页处理程序</text>
<text class="t" x="251" y="446">选择牺牲页并调入所需页面，然后重新执行导致缺页的指令</text>
<text class="l" x="236.5" y="461">多级页表</text>
<text class="t" x="253" y="450.2">页表过大时采用多级页表，</text>
<text class="t" x="253" y="452.9">只需一级页表常驻内存，</text>
<text class="t" x="253" y="455.6">节省内存空间</text>
<text class="t" x="253" y="458.7">二级页表可按需调入，</text>
<text class="t" x="253" y="461.4">以页为单位离散存放，</text>
<text class="t" x="253" y="464.1">需要多次访存</text>
<text class="l" x="253" y="470.2">页目录</text>
<text class="t" x="273" y="470.2">页目录项</text>
<text class="l" x="236.5" y="493">快表</text>
<text class="t" x="253" y="480.3">快表是访问速度比内存快得多</text>
<text class="t" x="253" y="483">的高速缓存存储器</text>
<text class="l" x="253" y="490">地址变换</text>
<text class="t" x="280" y="483.3">检索快表</text>
<text class="t" x="280" y="488.2">命中则直接访存</text>
<text class="t" x="278" y="493.1">未命中则查页表</text>
<text class="t" x="278" y="498">页表项存入快表</text>
<text class="t" x="253" y="501.2">快表命中率影响有效访问时间</text>
<text class="t" x="253" y="508">局部性原理使命中率较高</text>
<text class="l" x="236.5" y="521">缺页处理</text>
<text class="t" x="254" y="511">保护CPU现场</text>
<text class="l" x="254" y="523">选择页面</text>
<text class="t" x="278" y="516.4">若无空闲页框则按置换算法</text>
<text class="t" x="278" y="519.1">选择牺牲页</text>
<text class="t" x="278" y="527">修改过则写回</text>
<text class="t" x="254" y="533">调入所需页面，更新页表，重新执行指令</text>
<text class="l" x="236.5" y="551">性能</text>
<text class="t" x="272" y="541">有效访问时间EAT的计算</text>
<text class="t" x="272" y="546.6">与缺页率、内存访问时间</text>
<text class="t" x="272" y="549.3">及缺页处理时间有关</text>
<text class="t" x="272" y="555">降低缺页率是提高性能的关键</text>
</g>
</svg>
